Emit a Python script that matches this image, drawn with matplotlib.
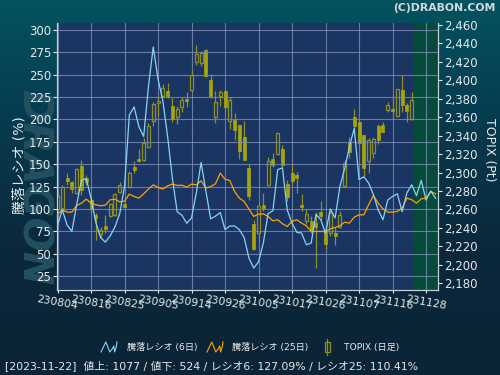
#!/usr/bin/env python3

import numpy as np
import matplotlib
matplotlib.use("Agg")
import matplotlib.pyplot as plt
from matplotlib.lines import Line2D
from matplotlib.patches import Rectangle
from matplotlib.ticker import FuncFormatter

plt.rcParams['font.family'] = ['DejaVu Sans', 'Noto Sans CJK JP']

# ---- data ----
DATE_LABELS = ["230804", "230816", "230825", "230905", "230914", "230926",
               "231005", "231017", "231026", "231107", "231116", "231128"]
LABEL_STEP = 7          # trading days between date labels
LAST_CANDLE_DAY = 74    # 2023-11-22

# TOPIX daily candles (open, high, low, close), day 0 = 2023-08-04
topix_open = [2261, 2262, 2294, 2290, 2278, 2307, 2294, 2270, 2254, 2233,
              2242, 2253, 2254, 2279, 2266, 2284, 2306, 2315, 2314, 2328,
              2356, 2375, 2383, 2388, 2372, 2360, 2371, 2380, 2390, 2420,
              2419, 2433, 2400, 2360, 2383, 2388, 2356, 2357, 2352, 2339,
              2305, 2244, 2234, 2265, 2286, 2315, 2320, 2325, 2288, 2299,
              2297, 2265, 2248, 2247, 2245, 2257, 2238, 2234, 2234, 2241,
              2285, 2333, 2360, 2355, 2341, 2312, 2321, 2350, 2352, 2368,
              2369, 2361, 2390, 2373, 2358]
topix_high = [2277, 2286, 2300, 2291, 2305, 2314, 2297, 2275, 2256, 2241,
              2254, 2267, 2278, 2290, 2270, 2302, 2312, 2325, 2337, 2354,
              2377, 2383, 2396, 2397, 2381, 2372, 2382, 2387, 2411, 2438,
              2432, 2434, 2407, 2388, 2390, 2390, 2382, 2365, 2352, 2356,
              2309, 2249, 2267, 2278, 2317, 2321, 2343, 2330, 2292, 2310,
              2301, 2277, 2260, 2253, 2257, 2269, 2244, 2258, 2241, 2258,
              2314, 2339, 2369, 2358, 2341, 2337, 2339, 2353, 2355, 2377,
              2384, 2391, 2406, 2375, 2387]
topix_low = [2258, 2260, 2286, 2278, 2277, 2276, 2287, 2256, 2227, 2229,
             2234, 2252, 2253, 2278, 2262, 2283, 2299, 2311, 2313, 2327,
             2351, 2361, 2382, 2381, 2355, 2353, 2366, 2371, 2387, 2417,
             2415, 2404, 2381, 2354, 2372, 2366, 2347, 2335, 2315, 2314,
             2270, 2216, 2225, 2258, 2285, 2306, 2319, 2306, 2269, 2287,
             2278, 2258, 2244, 2234, 2196, 2249, 2217, 2231, 2222, 2240,
             2284, 2316, 2346, 2327, 2296, 2300, 2316, 2331, 2344, 2366,
             2359, 2360, 2366, 2355, 2357]
topix_close = [2275, 2284, 2291, 2282, 2304, 2281, 2290, 2260, 2251, 2238,
               2239, 2266, 2277, 2287, 2263, 2299, 2303, 2313, 2332, 2350,
               2374, 2378, 2392, 2383, 2358, 2369, 2379, 2378, 2406, 2429,
               2430, 2405, 2383, 2376, 2387, 2371, 2379, 2346, 2323, 2314,
               2275, 2217, 2264, 2262, 2312, 2308, 2343, 2308, 2273, 2291,
               2294, 2263, 2255, 2238, 2241, 2253, 2223, 2256, 2231, 2254,
               2310, 2322, 2351, 2332, 2305, 2335, 2336, 2335, 2344, 2373,
               2367, 2391, 2373, 2367, 2379]

# advance/decline ratio (%), 6-day and 25-day
ratio6 = [82, 99, 82, 75, 105, 132, 134, 112, 85, 68,
          63, 70, 80, 95, 125, 205, 214, 192, 181, 237,
          281, 245, 221, 181, 134, 97, 93, 84, 90, 118,
          152, 120, 89, 92, 96, 77, 81, 81, 77, 68,
          45, 34, 41, 62, 95, 98, 144, 146, 99, 84,
          74, 73, 60, 62, 94, 88, 73, 100, 90, 125,
          145, 170, 190, 133, 136, 129, 116, 99, 88, 110,
          114, 117, 97, 118, 127.1, 115, 132, 110, 120, 112]
ratio25 = [94, 99, 96.5, 96.5, 104, 106.5, 111, 106.5, 104.7, 103.6,
           104.3, 110.3, 111, 108, 108.8, 116.6, 114, 112.1, 117, 122.2,
           127, 124, 122.2, 125.9, 127.8, 126.3, 126.6, 124.4, 127.8, 127,
           131.5, 123.3, 125.1, 128.1, 140, 133.3, 131.8, 119.6, 112.1, 108.4,
           99.9, 91.7, 94.3, 94.6, 91.7, 86.8, 88, 83.5, 80.5, 86.1,
           88, 84.2, 81.2, 74.9, 74.9, 74.9, 74.9, 77.9, 79.4, 81.2,
           85.3, 84.2, 90.9, 93.5, 93.5, 104.7, 115.1, 106.5, 100.2, 96.5,
           96.5, 97.2, 101, 112.1, 110.4, 106.5, 111.4, 112.1, 119.6, 117]

RATIO_TICKS = [25, 50, 75, 100, 125, 150, 175, 200, 225, 250, 275, 300]
TOPIX_TICKS = list(range(2180, 2461, 20))

FOOTER = "[2023-11-22]  値上: 1077 / 値下: 524 / レシオ6: 127.09% / レシオ25: 110.41%"

# ---- colours ----
PLOT_BG = "#1b3562"
FUTURE_BG = "#064a3c"
GRID = "#7d8db0"
TXT = "#e6e9ec"
C_R6 = "#88d4f2"
C_R25 = "#ffa200"
C_FILL = "#a6a60c"
C_EDGE = "#8e8e22"


def main():
    fig = plt.figure(figsize=(5, 3.75), dpi=100)

    # background gradient
    bg = fig.add_axes([0, 0, 1, 1], zorder=-10)
    grad = np.linspace(0, 1, 256).reshape(-1, 1)
    cmap = matplotlib.colors.LinearSegmentedColormap.from_list(
        "bg", ["#03535f", "#073a4e", "#0b283b", "#0b2436"])
    bg.imshow(grad, aspect="auto", cmap=cmap, extent=[0, 1, 0, 1])
    bg.axis("off")

    ax = fig.add_axes([0.1146, 0.2267, 0.7614, 0.7112])
    ax.set_facecolor(PLOT_BG)
    ax2 = ax.twinx()

    days = np.arange(len(topix_open))
    o = np.array(topix_open)
    c = np.array(topix_close)
    up = c >= o

    # future area
    ax.axvspan(LAST_CANDLE_DAY + 0.3, 90, color=FUTURE_BG, lw=0, zorder=0)

    # vertical grid
    xt = np.arange(len(DATE_LABELS)) * LABEL_STEP
    for x in xt:
        ax.axvline(x, color=GRID, lw=0.8, alpha=0.8, zorder=1)

    # candles
    ax.vlines(days, topix_low, topix_high, color=C_EDGE, lw=0.9, zorder=2)
    bot = np.minimum(o, c)
    hgt = np.maximum(np.abs(c - o), 0.8)
    ax.bar(days[~up], hgt[~up], bottom=bot[~up], width=0.62,
           color=C_FILL, edgecolor=C_FILL, lw=0.5, zorder=3)
    ax.bar(days[up], hgt[up], bottom=bot[up], width=0.62,
           color=PLOT_BG, edgecolor=C_EDGE, lw=0.9, zorder=3)

    ax.set_xlim(-0.05, 79.5)
    ax.set_ylim(2172.7, 2461.8)
    ax.yaxis.tick_right()
    ax.yaxis.set_label_position("right")
    ax.set_yticks(TOPIX_TICKS)
    ax.yaxis.set_major_formatter(FuncFormatter(lambda v, p: f"{v:,.0f}"))
    ax.set_ylabel("TOPIX (Pt)", color=TXT, fontsize=9, rotation=-90,
                  va="center", ha="center")
    ax.yaxis.set_label_coords(1.134, 0.525)

    ax.set_xticks(xt)
    ax.set_xticklabels(DATE_LABELS, rotation=-10, ha="center")

    # ratio lines
    rd = np.arange(len(ratio6))
    ax2.plot(rd, ratio25, color=C_R25, lw=0.9, zorder=4)
    ax2.plot(rd, ratio6, color=C_R6, lw=0.9, zorder=5)
    ax2.set_ylim(9.5, 307.5)
    ax2.yaxis.tick_left()
    ax2.yaxis.set_label_position("left")
    ax2.set_yticks(RATIO_TICKS)
    for v in RATIO_TICKS:
        ax2.axhline(v, color=GRID, lw=0.8, alpha=0.8, zorder=1)
    ax2.set_ylabel("騰落レシオ (%)", color=TXT, fontsize=10,
                   va="center", ha="center")
    ax2.yaxis.set_label_coords(-0.10, 0.47)

    for a in (ax, ax2):
        a.tick_params(colors=TXT, labelsize=8.5, length=3, width=0.8, pad=1.5)
        for s in a.spines.values():
            s.set_color("#c9d0d8")
        a.spines["top"].set_visible(False)
    ax.tick_params(axis="x", length=2, labelsize=7.8, pad=1)

    # watermark
    fig.text(0.066, 0.50, "DRAGON", rotation=-90, fontsize=29, weight="bold",
             style="italic", color="#23505f", ha="center", va="center",
             zorder=-5)

    fig.text(0.99, 0.978, "(C)DRABON.COM", fontsize=7.8, weight="bold",
             color="#d2d8dc", ha="right", va="center")

    # legend
    ly = 1 - 347 / 375
    zx = np.array([0, 0.3, 0.55, 0.7, 0.8, 0.85, 0.95, 1.0])
    zy = np.array([-0.5, 0.5, -0.5, -0.2, 0.1, -0.5, 0, 0.5])
    for x0, col in ((101, C_R6), (207, C_R25)):
        fig.add_artist(Line2D((x0 + zx * 16) / 500, ly + zy * 10 / 375,
                              color=col, lw=0.8))
    fig.text(127 / 500, ly, "騰落レシオ (6日)", fontsize=6.6, color=TXT,
             va="center")
    fig.text(232 / 500, ly, "騰落レシオ (25日)", fontsize=6.6, color=TXT,
             va="center")
    fig.add_artist(Line2D([327 / 500, 327 / 500],
                          [ly - 8 / 375, ly + 8 / 375], color=C_EDGE, lw=0.9))
    fig.add_artist(Rectangle((324.5 / 500, ly - 5 / 375), 5 / 500, 10 / 375,
                             facecolor="#0c2a3e", edgecolor=C_EDGE, lw=0.9))
    fig.text(344 / 500, ly, "TOPIX (日足)", fontsize=6.6, color=TXT,
             va="center")

    fig.text(5 / 500, 1 - 366 / 375, FOOTER, fontsize=7.8, color=TXT,
             va="center")

    fig.savefig("out.png", dpi=100)
    plt.close(fig)


if __name__ == "__main__":
    main()
